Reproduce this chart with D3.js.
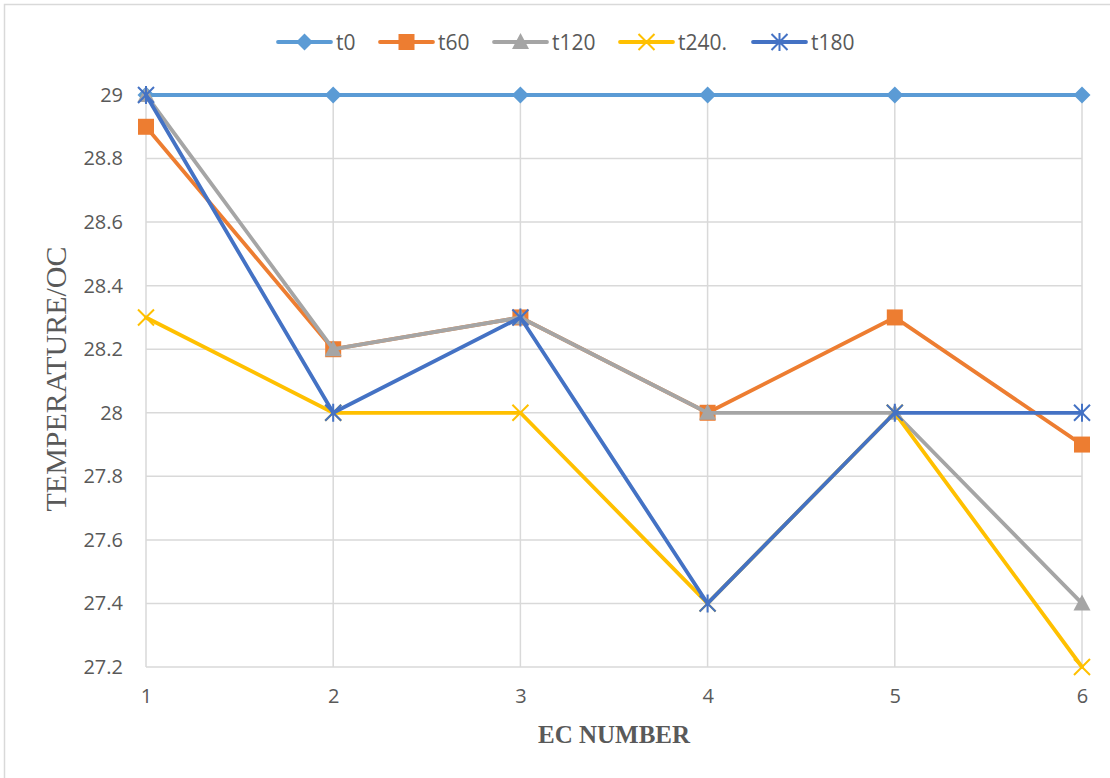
<!DOCTYPE html>
<html><head><meta charset="utf-8">
<script src="https://cdn.jsdelivr.net/npm/d3@7"></script>
<style>body{margin:0;background:#fff}svg{display:block}</style>
</head><body>
<svg id="c" width="1110" height="778"></svg>
<script>
const categories = [1, 2, 3, 4, 5, 6];
const yTicks = [27.2, 27.4, 27.6, 27.8, 28, 28.2, 28.4, 28.6, 28.8, 29];
const seriesNames = ["t0", "t60", "t120", "t240.", "t180"];
const t0   = [29, 29, 29, 29, 29, 29];
const t60  = [28.9, 28.2, 28.3, 28.0, 28.3, 27.9];
const t120 = [29, 28.2, 28.3, 28.0, 28.0, 27.4];
const t240 = [28.3, 28.0, 28.0, 27.4, 28.0, 27.2];
const t180 = [29, 28.0, 28.3, 27.4, 28.0, 28.0];
const colors = ["#5B9BD5", "#ED7D31", "#A5A5A5", "#FFC000", "#4472C4"];
const markers = ["diamond", "square", "triangle", "x", "star"];
const seriesValues = [t0, t60, t120, t240, t180];

const svg = d3.select("#c");
svg.append("rect").attr("x", 4.5).attr("y", 4.5).attr("width", 1120).attr("height", 790)
  .attr("fill", "#fff").attr("stroke", "#D9D9D9").attr("stroke-width", 1.5);

const x = d3.scaleLinear().domain([1, 6]).range([146, 1082]);
const y = d3.scaleLinear().domain([27.2, 29]).range([667, 95]);

const g = svg.append("g");
g.append("g").selectAll("line").data(yTicks).join("line")
  .attr("x1", 146).attr("x2", 1082).attr("y1", d => y(d)).attr("y2", d => y(d))
  .attr("stroke", "#D9D9D9").attr("stroke-width", 1.5);
g.append("g").selectAll("line").data(categories).join("line")
  .attr("x1", d => x(d)).attr("x2", d => x(d)).attr("y1", 95).attr("y2", 667)
  .attr("stroke", "#D9D9D9").attr("stroke-width", 1.5);

const yAxis = d3.axisLeft(y).tickValues(yTicks).tickSize(0).tickPadding(23).tickFormat(d => d3.format("")(+d.toFixed(1)));
const ya = svg.append("g").attr("transform", "translate(146,0)").call(yAxis);
ya.select(".domain").remove();
ya.selectAll("text").attr("fill", "#595959").style("font-family", "'Open Sans', sans-serif").style("font-size", "20px");

const xAxis = d3.axisBottom(x).tickValues(categories).tickSize(0).tickPadding(22).tickFormat(d3.format("d"));
const xa = svg.append("g").attr("transform", "translate(0,667)").call(xAxis);
xa.select(".domain").remove();
xa.selectAll("text").attr("fill", "#595959").style("font-family", "'Open Sans', sans-serif").style("font-size", "20px");

svg.append("text").attr("transform", "translate(66,379) rotate(-90)").attr("text-anchor", "middle")
  .attr("fill", "#595959").style("font-family", "'Liberation Serif', serif").style("font-size", "30px")
  .text("TEMPERATURE/OC");
svg.append("text").attr("x", 614).attr("y", 743).attr("text-anchor", "middle")
  .attr("fill", "#595959").style("font-family", "'Liberation Serif', serif").style("font-weight", "bold").style("font-size", "25px")
  .text("EC NUMBER");

function drawMarker(sel, type, color) {
  if (type === "diamond") {
    sel.append("path").attr("d", "M0,-8.5L8.5,0L0,8.5L-8.5,0Z").attr("fill", color);
  } else if (type === "square") {
    sel.append("rect").attr("x", -8).attr("y", -8).attr("width", 16).attr("height", 16).attr("fill", color);
  } else if (type === "triangle") {
    sel.append("path").attr("d", "M0,-9L8.5,7L-8.5,7Z").attr("fill", color);
  } else if (type === "x") {
    sel.append("path").attr("d", "M-8,-8L8,8M-8,8L8,-8").attr("stroke", color).attr("stroke-width", 2).attr("fill", "none");
  } else if (type === "star") {
    sel.append("path").attr("d", "M-8,-8L8,8M-8,8L8,-8M0,-9L0,9").attr("stroke", color).attr("stroke-width", 2).attr("fill", "none");
  }
}

const line = d3.line().x((d, i) => x(categories[i])).y(d => y(d));
seriesValues.forEach((vals, si) => {
  const sg = svg.append("g");
  sg.append("path").datum(vals).attr("d", line).attr("fill", "none")
    .attr("stroke", colors[si]).attr("stroke-width", 3.8).attr("stroke-linejoin", "round").attr("stroke-linecap", "round");
  vals.forEach((v, i) => {
    const m = sg.append("g").attr("transform", `translate(${x(categories[i])},${y(v)})`);
    drawMarker(m, markers[si], colors[si]);
  });
});

const legendX = [278, 380, 494, 620, 753];
seriesNames.forEach((name, si) => {
  const lg = svg.append("g").attr("transform", `translate(${legendX[si]},42)`);
  lg.append("line").attr("x1", 0).attr("x2", 53).attr("stroke", colors[si]).attr("stroke-width", 3.8).attr("stroke-linecap", "round");
  const m = lg.append("g").attr("transform", "translate(26.5,0)");
  drawMarker(m, markers[si], colors[si]);
  lg.append("text").attr("x", 58).attr("y", 8).attr("fill", "#595959")
    .style("font-family", "'Open Sans', sans-serif").style("font-size", "21px").text(name);
});
</script>
</body></html>
